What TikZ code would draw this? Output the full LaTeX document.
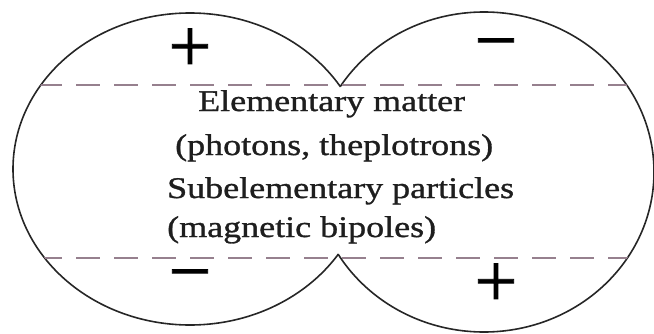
\documentclass[tikz,border=0pt]{standalone}
\usepackage{fontspec}
\setmainfont{Liberation Serif}
\newfontfamily\labelfont{Liberation Serif}[FakeStretch=1.2, FakeBold=1]
\newfontfamily\signfont{Liberation Serif}[FakeBold=1]
\usetikzlibrary{positioning}
\definecolor{Outline} {HTML}{262626}
\definecolor{DashLine}{HTML}{96808E}
\definecolor{TxtMain} {HTML}{1E1E1E}

\tikzset{
  lobe/.style={draw=Outline, line width=1.6pt},
  band/.style={draw=DashLine, line width=1.8pt, dash pattern=on 24pt off 14pt},
  sign/.style={inner sep=0pt, text=black, font=\signfont\fontsize{76}{76}\selectfont},
  caption/.style={anchor=base west, inner sep=0pt, text=TxtMain,
                  font=\labelfont\fontsize{30}{36}\selectfont},
}

\begin{document}
\begin{tikzpicture}[x=1pt, y=1pt]
      \useasboundingbox (0,0) rectangle (654,333);
      \coordinate (lobeL) at (190,164);
      \coordinate (lobeR) at (484,161);
      % ── left lobe (outside the right one) ──
      \begin{scope}[even odd rule]
        \clip (0,0) rectangle (654,333)
              (lobeR) ellipse [x radius=170, y radius=160];
        \draw[lobe] (lobeL) ellipse [x radius=177, y radius=156];
      \end{scope}
      % ── right lobe (outside the left one) ──
      \begin{scope}[even odd rule]
        \clip (0,0) rectangle (654,333)
              (lobeL) ellipse [x radius=177, y radius=156];
        \draw[lobe] (lobeR) ellipse [x radius=170, y radius=160];
      \end{scope}
      % ── dashed bands ──
      \begin{scope}
        \clip (lobeL) ellipse [x radius=177, y radius=156]
              (lobeR) ellipse [x radius=170, y radius=160];
        \draw[band] (0,248) -- (654,248);
        \draw[band] (0,75) -- (654,75);
      \end{scope}
      % ── text ──
      \node[caption] (elem)  at (198,222) {Elementary matter};
      \node[caption] (phot)  at (175,178) {(photons, theplotrons)};
      \node[caption] (subel) at (167,135) {Subelementary particles};
      \node[caption] (magn)  at (167,96)  {(magnetic bipoles)};
      % ── signs ──
      \node[sign] (plusL)  at (190,283) {+};
      \node[sign] (minusR) at (496,281) {−};
      \node[sign] (minusL) at (190,50)  {−};
      \node[sign] (plusR)  at (496,48)  {+};
\end{tikzpicture}
\end{document}
